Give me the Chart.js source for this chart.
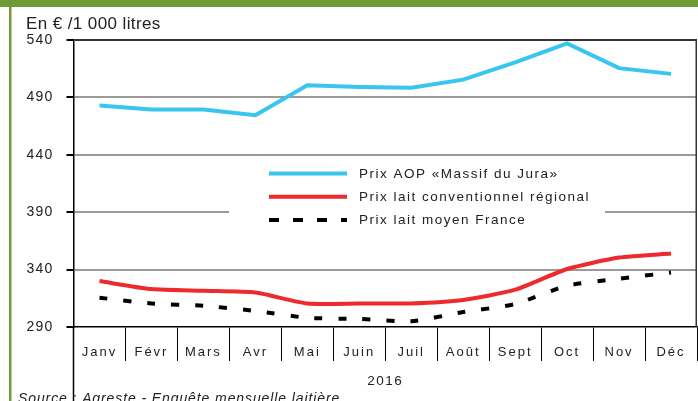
<!DOCTYPE html>
<html>
<head>
<meta charset="utf-8">
<script src="https://cdn.jsdelivr.net/npm/chart.js@4/dist/chart.umd.min.js"></script>
<style>
  body { margin: 0; background: #fff; }
  canvas { display: block; }
</style>
</head>
<body>
<canvas id="lait" width="698" height="401"></canvas>
<script>
// Prix du lait 2016, en € / 1 000 litres
const mois = ['Janv', 'Févr', 'Mars', 'Avr', 'Mai', 'Juin', 'Juil', 'Août', 'Sept', 'Oct', 'Nov', 'Déc'];
const prixAOP = [483, 479.5, 479.5, 474.5, 500.5, 499, 498.5, 505.5, 520.5, 537, 515.5, 510.5];
const prixRegional = [330, 323, 321.5, 320, 310.5, 310.5, 310.5, 313.5, 322.5, 340.5, 350.5, 354];
const prixFrance = [315.5, 310.5, 308.5, 304, 298, 297, 295, 303, 310, 326, 332, 337.5];
const yTicks = [290, 340, 390, 440, 490, 540];

const labelsLegende = ['Prix AOP «Massif du Jura»', 'Prix lait conventionnel régional', 'Prix lait moyen France'];
const bleu = '#38c5f0';
const rouge = '#ee2a2f';
const vert = '#6f9a34';
const police = '"Liberation Sans", Arial, sans-serif';

// letter spacing on the axis labels (the original is very airy)
const espacement = {
  id: 'espacement',
  beforeDraw(chart) {
    Object.values(chart.scales).forEach((s) => {
      if (s._espace) return;
      const sp = s.axis === 'x' ? '2px' : '1.2px';
      const labels = s.drawLabels.bind(s);
      const titre = s.drawTitle.bind(s);
      s.drawLabels = (a) => { chart.ctx.save(); chart.ctx.letterSpacing = sp; labels(a); chart.ctx.restore(); };
      s.drawTitle = (a) => { chart.ctx.save(); chart.ctx.letterSpacing = '1.5px'; titre(a); chart.ctx.restore(); };
      s._espace = true;
    });
  }
};

const decor = {
  id: 'decor',
  beforeDraw(chart) {
    const ctx = chart.ctx;
    ctx.save();
    ctx.fillStyle = '#fff';
    ctx.fillRect(0, 0, chart.width, chart.height);
    ctx.fillStyle = vert;
    ctx.fillRect(0, 0, chart.width, 7);
    ctx.fillRect(9, 0, 2.5, chart.height);
    ctx.fillStyle = '#222';
    ctx.font = '17px ' + police;
    ctx.letterSpacing = '0.4px';
    ctx.textBaseline = 'alphabetic';
    ctx.fillText('En € /1 000 litres', 26, 28.5);
    ctx.font = 'italic 14px ' + police;
    ctx.letterSpacing = '0.9px';
    ctx.fillText('Source : Agreste - Enquête mensuelle laitière', 18, 403);
    ctx.restore();
  },
  afterDatasetsDraw(chart) {
    const ctx = chart.ctx;
    const a = chart.chartArea;
    ctx.save();
    // legend box
    ctx.fillStyle = '#fff';
    ctx.fillRect(229, 160, 376, 74);
    const couleurs = [bleu, rouge, '#000'];
    labelsLegende.forEach((t, i) => {
      const y = 173.5 + i * 23.3;
      ctx.strokeStyle = couleurs[i];
      ctx.lineWidth = 4;
      ctx.setLineDash(i === 2 ? [10, 14] : []);
      ctx.beginPath();
      ctx.moveTo(269, y);
      ctx.lineTo(347, y);
      ctx.stroke();
      ctx.fillStyle = '#222';
      ctx.font = '13.5px ' + police;
      ctx.letterSpacing = '1.5px';
      ctx.textBaseline = 'middle';
      ctx.fillText(t, 359, y + 0.5);
    });
    ctx.setLineDash([]);
    // right frame and left axis down to the bottom
    ctx.strokeStyle = '#333';
    ctx.lineWidth = 1.5;
    ctx.beginPath();
    ctx.moveTo(a.right - 0.75, a.top);
    ctx.lineTo(a.right - 0.75, a.bottom);
    ctx.stroke();
    ctx.strokeStyle = '#000';
    ctx.beginPath();
    ctx.moveTo(a.left, a.bottom);
    ctx.lineTo(a.left, chart.height);
    ctx.stroke();
    ctx.restore();
  }
};

const ctx = document.getElementById('lait').getContext('2d');
const chart = new Chart(ctx, {
  type: 'line',
  data: {
    labels: mois,
    datasets: [{
      label: labelsLegende[0],
      data: prixAOP,
      borderColor: bleu,
      borderWidth: 4,
      tension: 0,
      pointRadius: 0
    }, {
      label: labelsLegende[1],
      data: prixRegional,
      borderColor: rouge,
      borderWidth: 4,
      tension: 0.2,
      pointRadius: 0
    }, {
      label: labelsLegende[2],
      data: prixFrance,
      borderColor: '#000',
      borderWidth: 4,
      borderDash: [8, 16],
      tension: 0.2,
      pointRadius: 0
    }]
  },
  options: {
    responsive: false,
    animation: false,
    layout: {
      padding: { top: 40, left: 13, right: 1, bottom: 0 }
    },
    plugins: {
      legend: { display: false },
      tooltip: { enabled: false }
    },
    scales: {
      x: {
        offset: true,
        afterFit: (s) => { s.height = 74; },
        grid: {
          offset: true,
          drawOnChartArea: false,
          tickLength: 34,
          color: '#000',
          tickColor: '#000',
          lineWidth: 1
        },
        border: { display: true, color: '#000', width: 1.5 },
        ticks: {
          padding: -16,
          color: '#222',
          font: { family: police, size: 13 }
        },
        title: {
          display: true,
          text: '2016',
          color: '#222',
          font: { family: police, size: 13.5 },
          padding: { top: 0, bottom: 12 }
        }
      },
      y: {
        min: 290,
        max: 540,
        afterFit: (s) => { s.width = 60.5; },
        afterBuildTicks: (s) => { s.ticks = yTicks.map((v) => ({ value: v })); },
        grid: {
          color: (c) => c.tick.value === 540 ? '#333' : (c.tick.value === 290 ? 'rgba(0,0,0,0)' : '#9a9a9a'),
          lineWidth: 2,
          tickLength: 7,
          tickColor: '#000'
        },
        border: { display: true, color: '#000', width: 1.5 },
        ticks: {
          padding: 13,
          color: '#222',
          font: { family: police, size: 14 }
        }
      }
    }
  },
  plugins: [espacement, decor]
});
</script>
</body>
</html>
